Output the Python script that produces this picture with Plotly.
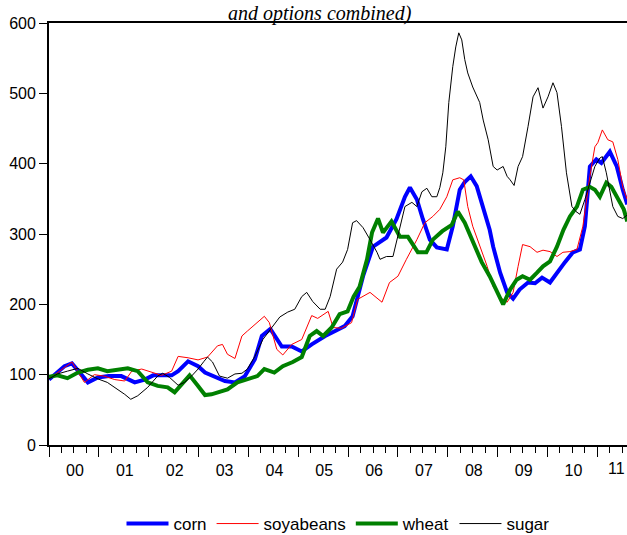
import plotly.graph_objects as go

# ---- data (decimal years, index values) ----
corn_t = [2000.0, 2000.31, 2000.46, 2000.78, 2000.98, 2001.2, 2001.45, 2001.72, 2001.92, 2002.09,
          2002.46, 2002.59, 2002.79, 2002.99, 2003.13, 2003.33, 2003.53, 2003.73, 2003.93, 2004.13,
          2004.27, 2004.44, 2004.67, 2004.87, 2005.07, 2005.27, 2005.54, 2005.74, 2005.93, 2006.09,
          2006.3, 2006.5, 2006.77, 2006.97, 2007.14, 2007.24, 2007.38, 2007.5, 2007.64, 2007.78,
          2007.98, 2008.1, 2008.24, 2008.34, 2008.46, 2008.58, 2008.71, 2008.84, 2008.91, 2009.05,
          2009.19, 2009.31, 2009.44, 2009.61, 2009.75, 2009.89, 2010.05, 2010.19, 2010.35, 2010.51,
          2010.65, 2010.75, 2010.85, 2010.98, 2011.08, 2011.25, 2011.39, 2011.51, 2011.6]
corn_v = [93, 112, 116, 89, 96, 98, 98, 89, 93, 99,
          99, 105, 119, 112, 103, 97, 91, 89, 98, 122,
          155, 165, 140, 140, 133, 143, 155, 162, 169, 183,
          240, 282, 295, 321, 353, 366, 349, 321, 292, 281,
          278, 311, 363, 374, 382, 368, 339, 306, 282, 245,
          217, 208, 221, 231, 230, 238, 231, 245, 260, 274,
          278, 311, 396, 406, 401, 417, 396, 363, 342]

soy_t = [2000.0, 2000.46, 2000.71, 2000.91, 2001.1, 2001.32, 2001.52, 2001.66, 2001.86, 2002.06,
         2002.26, 2002.46, 2002.59, 2002.79, 2002.99, 2003.18, 2003.38, 2003.48, 2003.58, 2003.73,
         2003.87, 2003.98, 2004.18, 2004.32, 2004.42, 2004.57, 2004.69, 2004.87, 2005.07, 2005.27,
         2005.39, 2005.6, 2005.7, 2005.87, 2006.07, 2006.19, 2006.44, 2006.68, 2006.83, 2007.0,
         2007.17, 2007.38, 2007.54, 2007.7, 2007.84, 2007.98, 2008.1, 2008.24, 2008.32, 2008.4,
         2008.5, 2008.64, 2008.79, 2008.91, 2009.05, 2009.19, 2009.31, 2009.41, 2009.5, 2009.65,
         2009.79, 2009.91, 2010.05, 2010.19, 2010.31, 2010.45, 2010.59, 2010.71, 2010.85, 2010.95,
         2011.01, 2011.1, 2011.21, 2011.31, 2011.41, 2011.51, 2011.6]
soy_v = [94, 118, 89, 100, 98, 93, 91, 105, 108, 103,
         99, 105, 126, 124, 121, 125, 141, 143, 129, 123,
         155, 162, 174, 183, 174, 136, 128, 143, 150, 184,
         180, 190, 167, 166, 174, 207, 217, 203, 231, 240,
         264, 292, 316, 325, 335, 353, 377, 380, 377, 339,
         311, 282, 254, 225, 210, 203, 217, 254, 285, 282,
         274, 277, 275, 268, 274, 275, 278, 311, 382, 424,
         430, 448, 434, 431, 406, 367, 349]

wheat_t = [2000.0, 2000.17, 2000.37, 2000.58, 2000.78, 2000.98, 2001.17, 2001.37, 2001.58, 2001.78,
           2001.98, 2002.18, 2002.38, 2002.52, 2002.69, 2002.82, 2002.99, 2003.13, 2003.26, 2003.43,
           2003.58, 2003.78, 2003.98, 2004.18, 2004.32, 2004.52, 2004.69, 2004.89, 2005.07, 2005.23,
           2005.37, 2005.5, 2005.67, 2005.83, 2005.99, 2006.11, 2006.23, 2006.38, 2006.48, 2006.6,
           2006.7, 2006.87, 2007.04, 2007.2, 2007.4, 2007.57, 2007.7, 2007.89, 2008.08, 2008.2,
           2008.34, 2008.5, 2008.68, 2008.84, 2008.97, 2009.11, 2009.25, 2009.38, 2009.5, 2009.65,
           2009.79, 2009.91, 2010.05, 2010.19, 2010.32, 2010.45, 2010.59, 2010.71, 2010.85, 2010.95,
           2011.05, 2011.18, 2011.28, 2011.41, 2011.53, 2011.6]
wheat_v = [97, 99, 95, 103, 107, 109, 105, 107, 109, 105,
           89, 84, 82, 75, 89, 99, 84, 71, 72, 75,
           79, 89, 94, 98, 108, 103, 112, 118, 125, 155,
           162, 155, 167, 186, 190, 211, 225, 264, 302, 322,
           302, 318, 296, 296, 274, 274, 292, 304, 313, 332,
           316, 288, 260, 240, 221, 200, 221, 235, 240, 235,
           245, 254, 261, 282, 306, 325, 339, 363, 367, 363,
           353, 373, 367, 349, 335, 318]

sugar_t = [2000.0, 2000.17, 2000.37, 2000.58, 2000.78, 2000.98, 2001.17, 2001.38, 2001.52, 2001.64,
           2001.78, 2001.98, 2002.18, 2002.28, 2002.42, 2002.59, 2002.72, 2002.86, 2002.99, 2003.11,
           2003.18, 2003.28, 2003.42, 2003.58, 2003.73, 2003.87, 2003.98, 2004.13, 2004.29, 2004.47,
           2004.63, 2004.79, 2004.93, 2005.07, 2005.17, 2005.29, 2005.44, 2005.54, 2005.64, 2005.77,
           2005.89, 2005.99, 2006.09, 2006.17, 2006.3, 2006.44, 2006.58, 2006.64, 2006.77, 2006.9,
           2007.0, 2007.14, 2007.28, 2007.38, 2007.48, 2007.58, 2007.68, 2007.78, 2007.84, 2007.9,
           2007.96, 2008.02, 2008.1, 2008.16, 2008.22, 2008.28, 2008.34, 2008.4, 2008.5, 2008.64,
           2008.71, 2008.81, 2008.91, 2008.99, 2009.11, 2009.19, 2009.25, 2009.33, 2009.41, 2009.5,
           2009.61, 2009.71, 2009.81, 2009.91, 2010.01, 2010.11, 2010.19, 2010.28, 2010.38, 2010.49,
           2010.57, 2010.65, 2010.75, 2010.85, 2010.95, 2011.05, 2011.1, 2011.18, 2011.25, 2011.31,
           2011.41, 2011.51, 2011.6]
sugar_v = [94, 101, 105, 109, 101, 94, 89, 79, 72, 65,
           70, 82, 98, 102, 96, 85, 89, 98, 108, 119,
           125, 118, 98, 95, 101, 102, 108, 126, 150, 167,
           182, 189, 193, 211, 217, 204, 193, 193, 211, 250,
           260, 278, 316, 319, 309, 292, 274, 264, 268, 268,
           296, 339, 345, 339, 360, 365, 353, 353, 366, 387,
           424, 487, 538, 566, 586, 576, 548, 529, 509, 487,
           462, 434, 396, 391, 396, 382, 377, 369, 396, 410,
           453, 495, 508, 479, 495, 515, 501, 453, 387, 339,
           332, 328, 349, 373, 396, 408, 410, 387, 359, 339,
           325, 322, 327]

series = [
    ("corn", corn_t, corn_v, "#0000FF", 4),
    ("soyabeans", soy_t, soy_v, "#FF0000", 1),
    ("wheat", wheat_t, wheat_v, "#008000", 4),
    ("sugar", sugar_t, sugar_v, "#000000", 1),
]

year_ticks = list(range(2000, 2012))
year_labels = ["00", "01", "02", "03", "04", "05", "06", "07", "08", "09", "10", ""]
last_year_label = "11"   # sits at the clipped right edge, drawn right-aligned
y_ticks = [0, 100, 200, 300, 400, 500, 600]

fig = go.Figure()
for name, t, v, color, w in series:
    fig.add_trace(go.Scatter(x=t, y=v, mode="lines", name=name,
                             line=dict(color=color, width=w)))

font = dict(family="Liberation Sans, Arial, sans-serif", size=16, color="black")

PX_PER_YEAR = 49.85
PLOT_TOP, PLOT_BOTTOM = 23, 445
plot_h = PLOT_BOTTOM - PLOT_TOP

fig.update_layout(
    width=627, height=535,
    margin=dict(l=49, r=0, t=PLOT_TOP, b=535 - PLOT_BOTTOM, autoexpand=False),
    paper_bgcolor="white", plot_bgcolor="white",
    font=font,
    showlegend=True,
    legend=dict(orientation="h", x=0.5, xanchor="center",
                y=(PLOT_BOTTOM - 524) / plot_h, yanchor="middle",
                font=dict(size=17), itemwidth=42, tracegroupgap=0),
    xaxis=dict(range=[2000, 2000 + 578 / PX_PER_YEAR], showgrid=False, zeroline=False,
               automargin=False,
               showline=True, linecolor="black", linewidth=1.8, mirror=True,
               tickmode="array", tickvals=year_ticks, ticktext=year_labels,
               ticks="outside", ticklen=10, tickwidth=1.2, tickcolor="black",
               ticklabelshift=26, ticklabelstandoff=0,
               minor=dict(dtick=0.25, tick0=2000, ticks="outside", ticklen=6,
                          tickwidth=1.2, tickcolor="black", showgrid=False)),
    yaxis=dict(range=[0, 600], showgrid=False, zeroline=False, automargin=False,
               showline=True, linecolor="black", linewidth=1.8,
               tickmode="array", tickvals=y_ticks,
               ticks="outside", ticklen=8, tickwidth=1.2, tickcolor="black"),
    annotations=[
        dict(text="and options combined)", xref="paper", yref="paper",
             x=(320 - 49) / 578, y=PLOT_BOTTOM / plot_h,
             xanchor="center", yanchor="top", showarrow=False,
             font=dict(family="Liberation Serif, Times New Roman, serif", size=20,
                       color="black", style="italic")),
        dict(text=last_year_label, xref="paper", yref="paper",
             x=1.0, y=(PLOT_BOTTOM - 469) / plot_h,
             xanchor="right", yanchor="middle", showarrow=False,
             font=dict(family="Liberation Sans, Arial, sans-serif", size=16, color="black")),
    ],
)

fig.write_html("out.html", config={"displayModeBar": False},
               post_script="document.body.style.margin='0';document.body.style.overflow='hidden';")
